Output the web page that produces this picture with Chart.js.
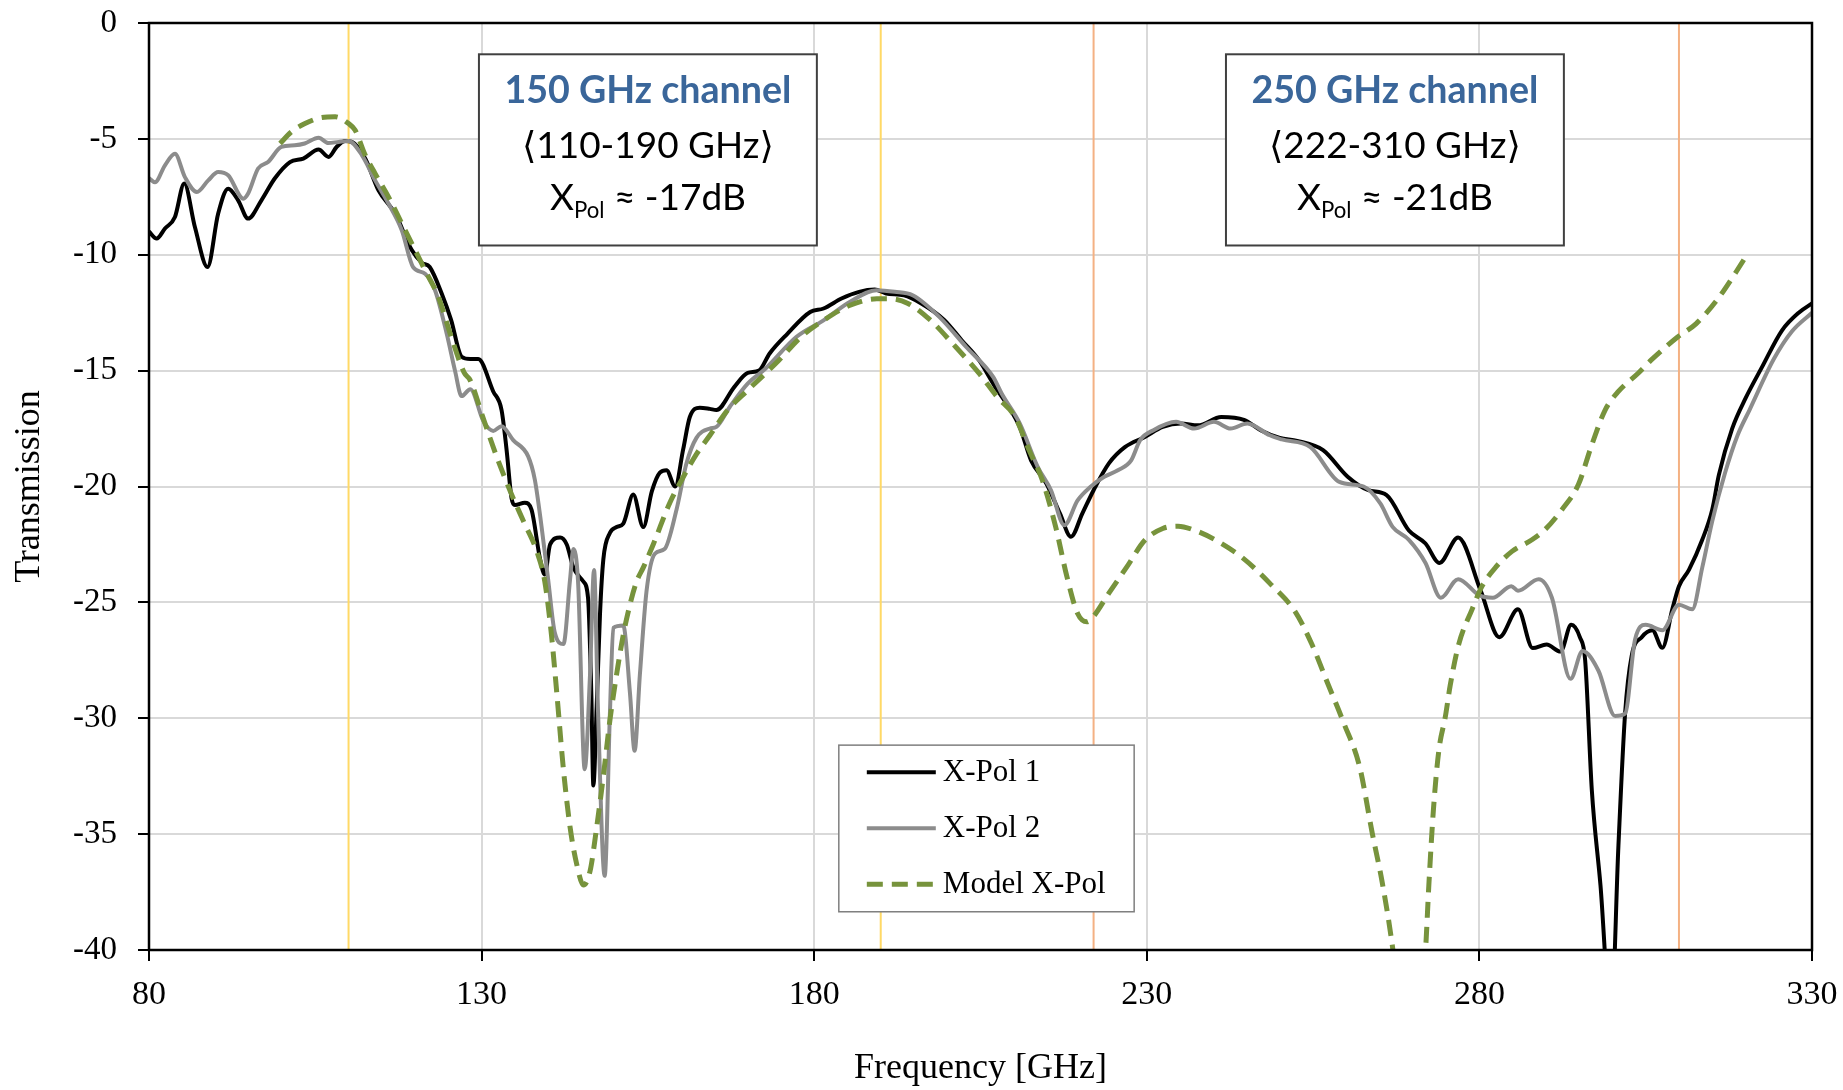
<!DOCTYPE html>
<html>
<head>
<meta charset="utf-8">
<script src="https://cdn.jsdelivr.net/npm/chart.js@4.4.1/dist/chart.umd.min.js"></script>
<style>
  html, body { margin: 0; padding: 0; background: #fff; }
  #wrap { width: 1843px; height: 1090px; }
</style>
</head>
<body>
<div id="wrap"><canvas id="chart" width="1843" height="1090"></canvas></div>
<script>
// measured X-Pol 1 (black)
const freq1 = [80.0, 81.15, 82.4, 83.9, 85.3, 86.9, 88.8, 90.4, 91.9, 93.4, 94.9, 96.9, 98.9, 101.2, 103.2, 105.5, 107.0, 108.2, 109.5, 110.5,
  112.5, 114.5, 117.0, 119.5, 121.0, 122.2, 124.0, 125.4, 127.0, 128.3, 129.5, 131.75, 133.0, 133.75, 134.5, 135.0, 136.5, 137.5, 138.8, 139.5,
  140.3, 141.8, 142.8, 143.8, 145.3, 146.0, 146.5, 146.8, 147.3, 147.8, 148.3, 149.3, 150.3, 151.3, 152.8, 154.3, 155.6, 156.8, 157.8, 159.1,
  160.3, 161.3, 162.8, 164.3, 165.3, 168.0, 170.0, 171.7, 173.3, 176.0, 179.4, 181.4, 184.1, 186.75, 189.1, 190.8, 193.5, 196.1, 199.5, 202.2,
  204.8, 207.2, 208.9, 210.9, 212.6, 214.9, 216.95, 218.6, 220.3, 222.0, 224.3, 226.7, 229.7, 232.4, 235.1, 237.7, 241.2, 244.6, 247.1, 250.0,
  252.6, 256.5, 260.2, 263.3, 266.05, 269.4, 271.9, 274.0, 276.8, 280.2, 283.0, 285.8, 288.0, 290.1, 292.2, 293.8, 295.1, 295.9, 296.9, 298.2,
  299.8, 300.9, 301.9, 302.9, 304.4, 306.0, 307.5, 309.0, 310.0, 311.5, 313.5, 315.0, 316.0, 318.0, 320.0, 322.5, 325.5, 328.0, 330.0];
const xpol1 = [-9.0, -9.3, -8.87, -8.37, -6.93, -8.8, -10.53, -8.22, -7.15, -7.65, -8.44, -7.65, -6.71, -6.0, -5.85, -5.46, -5.78, -5.35, -5.09, -5.13,
  -5.85, -7.22, -8.22, -9.8, -10.34, -10.53, -11.67, -12.8, -14.4, -14.5, -14.5, -15.9, -16.7, -18.4, -20.5, -20.8, -20.7, -21.0, -23.15, -23.8,
  -22.5, -22.2, -22.5, -23.5, -24.1, -24.8, -29.0, -32.9, -29.5, -25.5, -23.15, -22.0, -21.75, -21.6, -20.35, -21.75, -20.2, -19.4, -19.3, -20.0,
  -18.4, -17.0, -16.6, -16.65, -16.7, -15.7, -15.1, -15.0, -14.26, -13.4, -12.47, -12.32, -11.89, -11.6, -11.5, -11.67, -11.75, -12.1, -12.8, -13.7,
  -14.56, -15.7, -16.42, -17.43, -18.87, -19.87, -21.17, -22.17, -21.17, -20.16, -19.0, -18.3, -17.86, -17.43, -17.28, -17.36, -17.0, -17.12, -17.57, -17.9,
  -18.03, -18.43, -19.58, -20.16, -20.37, -21.9, -22.46, -23.3, -22.2, -24.5, -26.5, -25.3, -26.97, -26.82, -27.12, -25.97, -26.5, -27.5, -33.1, -37.2,
  -43.0, -35.5, -29.8, -27.3, -26.5, -26.2, -26.96, -25.3, -24.3, -23.6, -22.3, -21.0, -19.5, -17.5, -16.2, -14.84, -13.26, -12.5, -12.1];

// measured X-Pol 2 (grey)
const freq2 = [80.0, 80.9, 82.4, 83.9, 85.4, 87.2, 88.9, 90.4, 91.9, 94.2, 94.9, 96.4, 97.9, 99.9, 101.9, 103.4, 105.5, 106.95, 108.5, 110.0,
  112.0, 114.0, 116.0, 118.0, 119.7, 121.5, 123.0, 124.75, 126.0, 127.0, 128.3, 130.3, 131.75, 133.0, 134.75, 137.0, 138.0, 139.0, 140.0, 141.0,
  142.3, 143.3, 143.8, 144.5, 145.5, 146.3, 146.9, 147.5, 148.5, 149.3, 149.8, 151.3, 152.3, 153.0, 153.8, 154.8, 156.05, 157.5, 159.3, 160.8,
  162.3, 164.3, 165.3, 167.3, 170.0, 172.7, 177.3, 181.4, 185.4, 189.4, 192.1, 194.8, 198.8, 202.85, 206.9, 208.2, 210.9, 213.6, 215.6, 217.6,
  219.6, 221.6, 223.6, 225.65, 227.65, 229.0, 231.0, 234.4, 237.1, 240.1, 242.6, 245.1, 248.5, 250.3, 254.6, 258.95, 262.6, 265.1, 266.95, 269.4,
  271.9, 274.2, 276.8, 280.0, 282.0, 284.8, 285.8, 288.9, 290.9, 293.7, 295.5, 297.9, 300.4, 301.9, 303.4, 305.0, 307.5, 310.0, 312.0, 313.5,
  315.0, 316.9, 318.8, 320.6, 324.3, 327.0, 330.0];
const xpol2 = [-6.7, -6.87, -6.14, -5.64, -6.65, -7.29, -6.79, -6.43, -6.57, -7.58, -7.36, -6.28, -6.0, -5.35, -5.28, -5.2, -4.95, -5.18, -5.13, -5.09,
  -5.7, -6.79, -7.79, -8.94, -10.53, -10.82, -11.53, -13.4, -15.0, -16.1, -15.8, -17.2, -17.6, -17.4, -18.0, -18.7, -19.7, -21.7, -24.0, -26.3,
  -26.8, -24.0, -22.7, -24.1, -32.2, -28.1, -23.6, -29.7, -36.8, -29.7, -26.1, -26.0, -28.9, -31.4, -28.1, -24.5, -22.9, -22.7, -21.0, -19.0,
  -17.9, -17.5, -17.43, -16.57, -15.56, -14.91, -13.55, -12.83, -12.03, -11.53, -11.6, -11.75, -12.68, -13.98, -15.27, -16.0, -17.28, -19.15, -20.16, -21.67,
  -20.6, -20.0, -19.58, -19.3, -18.87, -18.0, -17.57, -17.21, -17.5, -17.21, -17.5, -17.28, -17.79, -17.97, -18.3, -19.8, -20.0, -20.73, -21.74, -22.3,
  -23.3, -24.8, -24.0, -24.7, -24.8, -24.3, -24.5, -24.0, -24.8, -28.3, -27.1, -27.95, -29.9, -29.8, -26.6, -25.97, -26.2, -25.1, -25.3, -23.5,
  -21.5, -19.44, -17.8, -16.7, -14.48, -13.3, -12.5];

// model X-Pol (green dashed)
const freqModel = [99.7, 101.4, 103.45, 105.95, 108.0, 110.0, 111.0, 112.5, 114.0, 116.0, 118.0, 120.0, 121.5, 123.5, 125.5, 127.4, 128.25, 130.25, 132.25, 134.3,
  136.3, 138.3, 139.5, 140.5, 141.3, 142.3, 143.3, 144.3, 145.3, 146.3, 147.3, 148.3, 149.3, 150.3, 151.3, 152.3, 153.3, 154.3, 155.8, 158.3,
  160.3, 162.3, 164.3, 167.0, 170.0, 174.7, 178.0, 181.4, 185.4, 189.4, 191.4, 194.1, 197.5, 200.8, 204.8, 207.5, 210.2, 212.3, 214.3, 216.3,
  218.0, 219.6, 221.0, 222.0, 224.3, 227.0, 229.7, 232.4, 234.7, 237.1, 240.4, 244.5, 248.5, 252.3, 254.8, 257.2, 259.6, 262.0, 263.9, 265.4,
  267.0, 268.2, 269.5, 270.8, 271.9, 272.4, 273.1, 273.9, 274.9, 275.6, 276.9, 278.9, 280.4, 282.4, 284.9, 287.9, 289.9, 292.4, 294.9, 296.9,
  298.9, 300.9, 303.9, 305.8, 309.8, 312.6, 315.7, 318.1, 320.0];
const modelXpol = [-5.2, -4.7, -4.34, -4.08, -4.05, -4.34, -4.63, -5.7, -6.5, -7.5, -8.65, -9.8, -10.67, -11.82, -13.6, -15.1, -15.4, -17.06, -18.7, -20.2,
  -21.5, -22.8, -24.1, -26.4, -28.9, -32.2, -34.7, -36.3, -37.2, -36.6, -34.7, -32.5, -30.06, -28.1, -26.4, -25.1, -24.1, -23.5, -22.5, -20.7,
  -19.6, -18.6, -17.8, -16.7, -15.85, -14.55, -13.55, -12.83, -12.18, -11.9, -11.9, -12.1, -12.83, -13.83, -15.12, -16.13, -17.0, -18.43, -19.73, -21.74,
  -23.9, -25.48, -25.84, -25.6, -24.6, -23.47, -22.32, -21.81, -21.71, -21.88, -22.32, -23.1, -24.18, -25.4, -26.8, -28.5, -30.2, -32.1, -34.97, -37.1,
  -40.0, -43.0, -44.5, -43.0, -40.0, -37.2, -33.9, -31.4, -29.9, -28.6, -26.8, -25.3, -24.3, -23.5, -22.8, -22.3, -21.85, -21.0, -19.9, -18.2,
  -16.7, -15.9, -15.1, -14.55, -13.55, -12.97, -11.96, -10.96, -10.1];

// channel band edges [GHz]
const bandEdges = [110, 190, 222, 310];
const xTickValues = [80, 130, 180, 230, 280, 330];
const yTickValues = [0, -5, -10, -15, -20, -25, -30, -35, -40];

const channelNames = ['150 GHz channel', '250 GHz channel'];
const channelRanges = ['\u27E8110-190 GHz\u27E9', '\u27E8222-310 GHz\u27E9'];
const channelXpol = ['-17dB', '-21dB'];

const pts = (xs, ys) => xs.map((x, i) => ({ x: x, y: ys[i] }));

const serif = '"Liberation Serif", "Times New Roman", serif';
const sans = 'Lato, "DejaVu Sans", sans-serif';

function bandColor(f) {
  return f < 200 ? '#FFD966' : '#F4B183';
}

const bandSets = bandEdges.map(f => ({
  label: '',
  data: [{ x: f, y: 0 }, { x: f, y: -40 }],
  borderColor: bandColor(f),
  borderWidth: 2,
  pointRadius: 0,
  order: 10
}));

// boxes in data units (left, right)
const boxes = [
  { x0: 129.6, x1: 180.4, i: 0 },
  { x0: 241.9, x1: 292.7, i: 1 }
];

function fit(ctx, text, weight, width) {
  ctx.font = weight + ' 100px ' + sans;
  return 100 * width / ctx.measureText(text).width;
}

const overlay = {
  id: 'overlay',
  afterDatasetsDraw(chart) {
    const { ctx, chartArea: a, scales } = chart;
    const sx = scales.x, sy = scales.y;
    ctx.save();

    // text boxes
    boxes.forEach(b => {
      const L = sx.getPixelForValue(b.x0), R = sx.getPixelForValue(b.x1);
      const T = sy.getPixelForValue(-1.35), B = sy.getPixelForValue(-9.6);
      const cx = (L + R) / 2;
      ctx.fillStyle = '#fff';
      ctx.fillRect(L, T, R - L, B - T);
      ctx.strokeStyle = '#404040';
      ctx.lineWidth = 2;
      ctx.strokeRect(L, T, R - L, B - T);

      ctx.textBaseline = 'alphabetic';
      ctx.textAlign = 'center';
      let s = fit(ctx, channelNames[b.i], 'bold', 287);
      ctx.font = 'bold ' + s + 'px ' + sans;
      ctx.fillStyle = '#3A669A';
      ctx.fillText(channelNames[b.i], cx, T + 49);

      s = fit(ctx, channelRanges[b.i], 'normal', 252);
      ctx.font = s + 'px ' + sans;
      ctx.fillStyle = '#000';
      ctx.fillText(channelRanges[b.i], cx, T + 104);

      // X_Pol ≈ value
      const rest = ' \u2248 ' + channelXpol[b.i];
      ctx.font = '100px ' + sans;
      const wX = ctx.measureText('X').width, wR = ctx.measureText(rest).width;
      ctx.font = '60px ' + sans;
      const wP = ctx.measureText('Pol').width;
      const k = 196 / (wX + wP + wR);
      let x = cx - 98;
      ctx.textAlign = 'left';
      ctx.font = (100 * k) + 'px ' + sans;
      ctx.fillText('X', x, T + 156);
      x += wX * k;
      ctx.font = (60 * k) + 'px ' + sans;
      ctx.fillText('Pol', x, T + 164);
      x += wP * k;
      ctx.font = (100 * k) + 'px ' + sans;
      ctx.fillText(rest, x, T + 156);
    });

    // legend
    const lx = sx.getPixelForValue(183.7), rx = sx.getPixelForValue(228.1);
    const ty = sy.getPixelForValue(-31.16), by = sy.getPixelForValue(-38.35);
    ctx.fillStyle = '#fff';
    ctx.fillRect(lx, ty, rx - lx, by - ty);
    ctx.strokeStyle = '#7f7f7f';
    ctx.lineWidth = 1.5;
    ctx.strokeRect(lx, ty, rx - lx, by - ty);
    const items = chart.data.datasets.filter(d => d.label);
    items.forEach((d, i) => {
      const y = ty + 27 + i * 56;
      ctx.strokeStyle = d.borderColor;
      ctx.lineWidth = d.borderWidth;
      ctx.setLineDash(d.borderDash || []);
      ctx.beginPath();
      ctx.moveTo(lx + 28, y);
      ctx.lineTo(lx + 97, y);
      ctx.stroke();
      ctx.setLineDash([]);
      ctx.fillStyle = '#000';
      ctx.font = '31px ' + serif;
      ctx.textAlign = 'left';
      ctx.textBaseline = 'middle';
      ctx.fillText(d.label, lx + 104, y + 1);
    });

    // plot frame
    ctx.strokeStyle = '#000';
    ctx.lineWidth = 2.5;
    ctx.strokeRect(a.left, a.top, a.right - a.left, a.bottom - a.top);
    ctx.restore();
  }
};

new Chart(document.getElementById('chart').getContext('2d'), {
  type: 'line',
  data: {
    datasets: [
      {
        label: 'X-Pol 1',
        data: pts(freq1, xpol1),
        borderColor: '#000000',
        borderWidth: 4,
        pointRadius: 0,
        cubicInterpolationMode: 'monotone',
        order: 3
      },
      {
        label: 'X-Pol 2',
        data: pts(freq2, xpol2),
        borderColor: '#8C8C8C',
        borderWidth: 4,
        pointRadius: 0,
        cubicInterpolationMode: 'monotone',
        order: 2
      },
      {
        label: 'Model X-Pol',
        data: pts(freqModel, modelXpol),
        borderColor: '#77933C',
        borderWidth: 5,
        borderDash: [16, 9],
        pointRadius: 0,
        cubicInterpolationMode: 'monotone',
        order: 1
      },
      ...bandSets
    ]
  },
  options: {
    responsive: false,
    animation: false,
    devicePixelRatio: 1,
    layout: { padding: { left: 0, right: 31, top: 23, bottom: 0 } },
    plugins: {
      legend: { display: false },
      tooltip: { enabled: false }
    },
    scales: {
      x: {
        type: 'linear',
        min: 80,
        max: 330,
        afterBuildTicks: s => { s.ticks = xTickValues.map(v => ({ value: v })); },
        afterFit: s => { s.height = 140; s.paddingLeft = 0; s.paddingRight = 0; },
        ticks: { color: '#000', font: { family: serif, size: 34 }, padding: 14 },
        grid: { color: '#d9d9d9', lineWidth: 2, tickColor: '#000', tickLength: 11, tickWidth: 2 },
        border: { display: false },
        title: {
          display: true,
          text: 'Frequency [GHz]',
          color: '#000',
          font: { family: serif, size: 36 },
          padding: { top: 0, bottom: 0 }
        }
      },
      y: {
        min: -40,
        max: 0,
        afterBuildTicks: s => { s.ticks = yTickValues.map(v => ({ value: v })); },
        afterFit: s => { s.width = 149; s.paddingTop = 0; s.paddingBottom = 0; },
        ticks: { color: '#000', font: { family: serif, size: 33 }, padding: 21 },
        grid: { color: '#d9d9d9', lineWidth: 2, tickColor: '#000', tickLength: 11, tickWidth: 2 },
        border: { display: false },
        title: {
          display: true,
          text: 'Transmission',
          color: '#000',
          font: { family: serif, size: 36 },
          padding: { top: 8, bottom: 0 }
        }
      }
    }
  },
  plugins: [overlay]
});
</script>
</body>
</html>
